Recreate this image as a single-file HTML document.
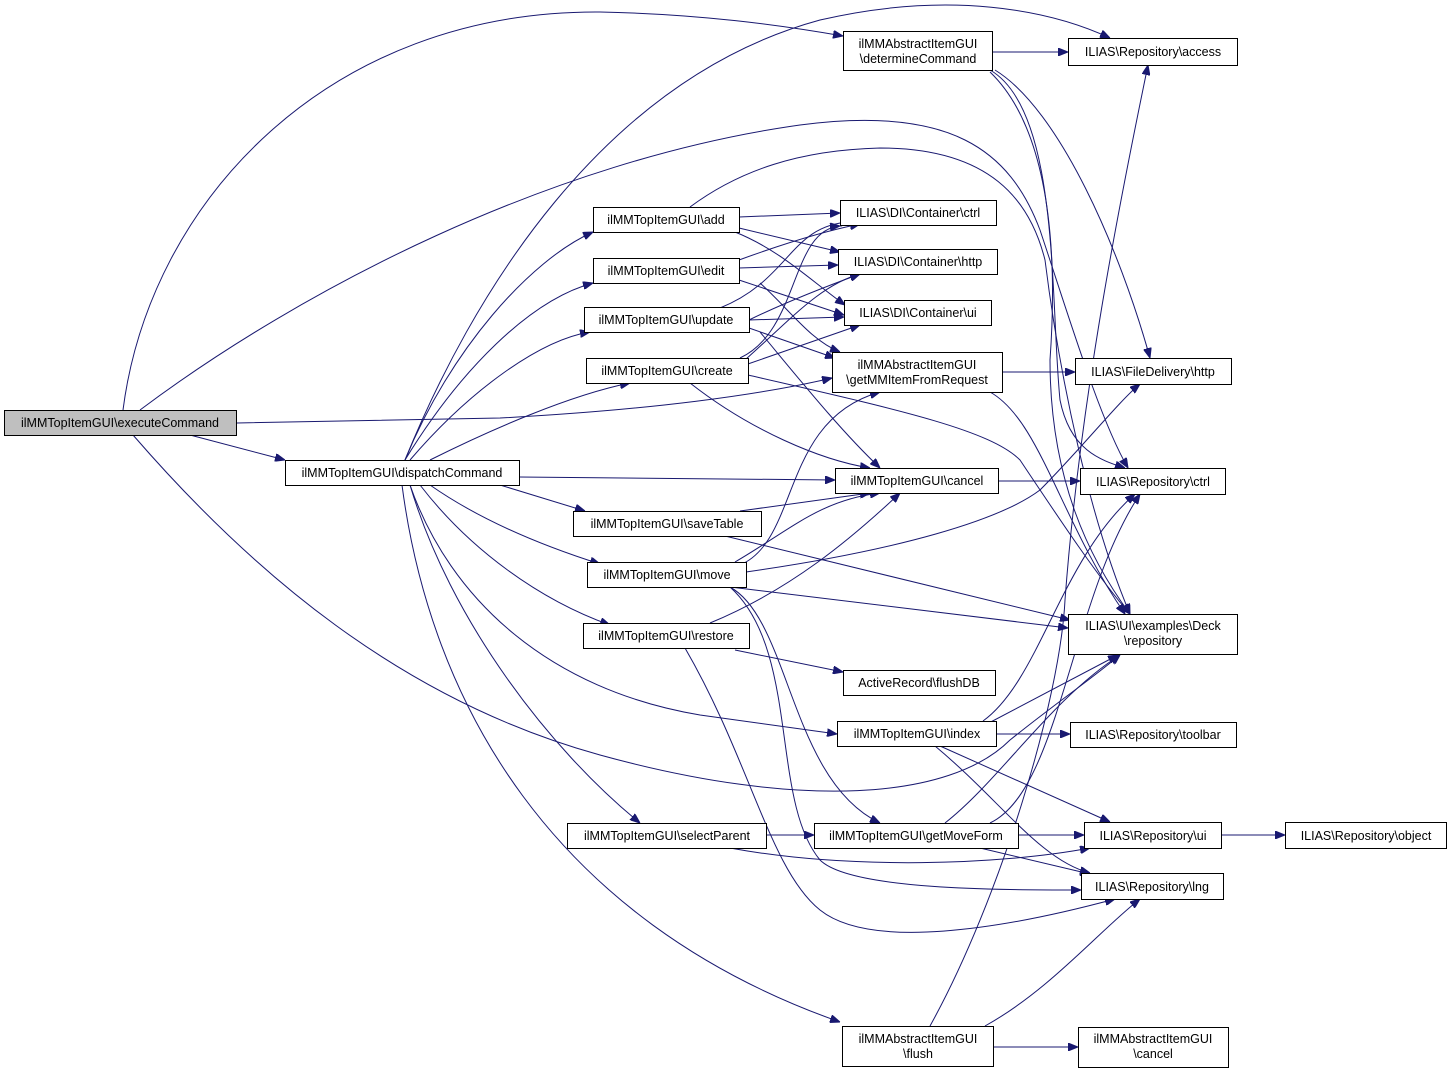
<!DOCTYPE html>
<html><head><meta charset="utf-8"><style>
html,body{margin:0;padding:0;background:#fff;}
svg{display:block;}
text{font-family:"Liberation Sans",sans-serif;font-size:12.5px;fill:#000;}
.n{fill:#fff;stroke:#000;stroke-width:1;}
.e{fill:none;stroke:#191970;stroke-width:1;}
</style></head><body>
<svg width="1452" height="1073" viewBox="0 0 1452 1073" xmlns="http://www.w3.org/2000/svg">
<defs><marker id="a" markerWidth="10" markerHeight="8" refX="10" refY="4" orient="auto" markerUnits="userSpaceOnUse"><path d="M0,0 L10,4 L0,8 z" fill="#191970" stroke="#191970"/></marker></defs>
<g class="e" marker-end="url(#a)">
<!-- executeCommand -->
<path d="M123,410 C150,200 330,10 600,12 C700,14 780,25 843,36"/>
<path d="M140,410 C300,290 550,160 800,125 C950,105 1010,150 1040,230 C1070,320 1100,420 1128,468"/>
<path d="M237,423 L500,418 C650,410 760,395 832,378"/>
<path d="M190,435 L285,460"/>
<path d="M133,435 C250,570 400,700 600,755 C800,810 950,800 1010,740 C1060,700 1090,680 1120,655"/>
<!-- dispatchCommand -->
<path d="M405,460 C470,300 600,80 820,20 C950,-10 1050,10 1110,38"/>
<path d="M405,460 C450,350 530,260 593,232"/>
<path d="M405,460 C460,370 530,300 593,283"/>
<path d="M410,460 C470,390 540,340 590,332"/>
<path d="M430,460 C490,430 570,395 630,383"/>
<path d="M519,477 L835,480"/>
<path d="M500,485 L585,511"/>
<path d="M430,485 C480,520 540,545 600,564"/>
<path d="M420,485 C470,550 540,600 610,625"/>
<path d="M410,485 C450,600 550,690 700,715 L837,734"/>
<path d="M410,485 C450,620 550,750 640,823"/>
<path d="M402,485 C430,700 550,920 840,1022"/>
<!-- add -->
<path d="M739,217 L840,213"/>
<path d="M739,228 L840,252"/>
<path d="M735,232 C780,250 810,280 845,305"/>
<path d="M690,207 C740,170 800,150 880,148 C990,148 1030,200 1045,260 C1060,380 1090,520 1130,614"/>
<!-- edit -->
<path d="M739,260 C780,245 820,232 860,224"/>
<path d="M739,268 L838,265"/>
<path d="M739,280 L844,315"/>
<path d="M760,283 C790,310 810,340 840,352"/>
<!-- update -->
<path d="M720,308 C790,280 790,225 850,222"/>
<path d="M749,320 C790,300 830,285 860,274"/>
<path d="M749,320 L844,317"/>
<path d="M749,328 L835,358"/>
<path d="M760,332 C800,380 840,430 880,468"/>
<!-- create -->
<path d="M740,358 C800,330 790,230 840,226"/>
<path d="M745,360 C790,320 820,285 860,274"/>
<path d="M745,365 L860,325"/>
<path d="M690,383 C750,430 820,460 870,468"/>
<path d="M748,375 C900,410 990,430 1020,460 C1060,520 1100,580 1130,614"/>
<!-- getMMItemFromRequest -->
<path d="M1002,372 L1075,372"/>
<path d="M990,392 C1040,420 1060,520 1125,614"/>
<!-- determineCommand -->
<path d="M992,52 L1068,52"/>
<path d="M995,70 C1060,110 1120,250 1150,358"/>
<path d="M990,70 C1060,110 1050,300 1060,400 C1070,450 1100,460 1125,468"/>
<path d="M990,72 C1040,120 1060,220 1050,360 C1050,480 1090,560 1130,614"/>
<!-- cancel -->
<path d="M998,481 L1080,481"/>
<!-- saveTable -->
<path d="M740,511 L870,493"/>
<path d="M725,536 L1070,620"/>
<!-- move -->
<path d="M735,562 C790,530 820,500 880,493"/>
<path d="M740,565 C800,540 780,420 880,392"/>
<path d="M746,572 C900,550 1000,520 1040,490 C1080,450 1120,400 1140,384"/>
<path d="M730,587 L1068,628"/>
<path d="M730,587 C790,620 790,780 880,823"/>
<path d="M730,587 C800,650 770,800 820,860 C850,890 1000,890 1081,890"/>
<!-- restore -->
<path d="M710,623 C790,590 850,540 900,493"/>
<path d="M735,650 L843,672"/>
<path d="M685,648 C750,760 770,870 820,910 C870,950 1000,930 1115,899"/>
<!-- index -->
<path d="M983,721 C1040,680 1060,560 1135,494"/>
<path d="M985,725 L1118,655"/>
<path d="M996,734 L1070,734"/>
<path d="M940,746 L1110,822"/>
<path d="M935,746 C1000,800 1040,860 1090,873"/>
<!-- selectParent -->
<path d="M766,835 L814,835"/>
<path d="M730,848 C850,870 1000,865 1090,848"/>
<!-- getMoveForm -->
<path d="M1018,835 L1084,835"/>
<path d="M980,848 L1090,874"/>
<path d="M945,823 C1000,780 1050,700 1120,655"/>
<path d="M990,823 C1060,790 1070,600 1140,494"/>
<!-- repo ui -->
<path d="M1221,835 L1285,835"/>
<!-- flush -->
<path d="M930,1026 C1000,900 1060,700 1065,600 C1080,400 1120,200 1148,65"/>
<path d="M985,1026 C1050,990 1100,930 1140,899"/>
<path d="M994,1047 L1078,1047"/>
</g>
<g>
<rect x="4.5" y="410.5" width="232" height="25" fill="#bfbfbf" stroke="#000"/><text x="120" y="427" text-anchor="middle">ilMMTopItemGUI\executeCommand</text>
<rect class="n" x="285.5" y="460.5" width="234" height="25"/><text x="402" y="477" text-anchor="middle">ilMMTopItemGUI\dispatchCommand</text>
<rect class="n" x="593.5" y="207.5" width="146" height="25"/><text x="666" y="224" text-anchor="middle">ilMMTopItemGUI\add</text>
<rect class="n" x="593.5" y="258.5" width="146" height="25"/><text x="666" y="275" text-anchor="middle">ilMMTopItemGUI\edit</text>
<rect class="n" x="584.5" y="307.5" width="165" height="25"/><text x="666" y="324" text-anchor="middle">ilMMTopItemGUI\update</text>
<rect class="n" x="586.5" y="358.5" width="162" height="25"/><text x="667" y="375" text-anchor="middle">ilMMTopItemGUI\create</text>
<rect class="n" x="573.5" y="511.5" width="188" height="25"/><text x="667" y="528" text-anchor="middle">ilMMTopItemGUI\saveTable</text>
<rect class="n" x="587.5" y="562.5" width="159" height="25"/><text x="667" y="579" text-anchor="middle">ilMMTopItemGUI\move</text>
<rect class="n" x="583.5" y="623.5" width="166" height="25"/><text x="666" y="640" text-anchor="middle">ilMMTopItemGUI\restore</text>
<rect class="n" x="567.5" y="823.5" width="199" height="25"/><text x="667" y="840" text-anchor="middle">ilMMTopItemGUI\selectParent</text>
<rect class="n" x="843.5" y="31.5" width="149" height="39"/><text x="918" y="48" text-anchor="middle">ilMMAbstractItemGUI</text><text x="918" y="63" text-anchor="middle">\determineCommand</text>
<rect class="n" x="840.5" y="200.5" width="156" height="25"/><text x="918" y="217" text-anchor="middle">ILIAS\DI\Container\ctrl</text>
<rect class="n" x="838.5" y="249.5" width="159" height="25"/><text x="918" y="266" text-anchor="middle">ILIAS\DI\Container\http</text>
<rect class="n" x="844.5" y="300.5" width="147" height="25"/><text x="918" y="317" text-anchor="middle">ILIAS\DI\Container\ui</text>
<rect class="n" x="832.5" y="352.5" width="170" height="40"/><text x="917" y="369" text-anchor="middle">ilMMAbstractItemGUI</text><text x="917" y="384" text-anchor="middle">\getMMItemFromRequest</text>
<rect class="n" x="835.5" y="468.5" width="163" height="25"/><text x="917" y="485" text-anchor="middle">ilMMTopItemGUI\cancel</text>
<rect class="n" x="843.5" y="670.5" width="152" height="25"/><text x="919" y="687" text-anchor="middle">ActiveRecord\flushDB</text>
<rect class="n" x="837.5" y="721.5" width="159" height="25"/><text x="917" y="738" text-anchor="middle">ilMMTopItemGUI\index</text>
<rect class="n" x="814.5" y="823.5" width="204" height="25"/><text x="916" y="840" text-anchor="middle">ilMMTopItemGUI\getMoveForm</text>
<rect class="n" x="842.5" y="1026.5" width="151" height="40"/><text x="918" y="1043" text-anchor="middle">ilMMAbstractItemGUI</text><text x="918" y="1058" text-anchor="middle">\flush</text>
<rect class="n" x="1068.5" y="38.5" width="169" height="27"/><text x="1153" y="56" text-anchor="middle">ILIAS\Repository\access</text>
<rect class="n" x="1075.5" y="358.5" width="156" height="26"/><text x="1153" y="376" text-anchor="middle">ILIAS\FileDelivery\http</text>
<rect class="n" x="1080.5" y="468.5" width="145" height="26"/><text x="1153" y="486" text-anchor="middle">ILIAS\Repository\ctrl</text>
<rect class="n" x="1068.5" y="614.5" width="169" height="40"/><text x="1153" y="630" text-anchor="middle">ILIAS\UI\examples\Deck</text><text x="1153" y="645" text-anchor="middle">\repository</text>
<rect class="n" x="1070.5" y="722.5" width="166" height="25"/><text x="1153" y="739" text-anchor="middle">ILIAS\Repository\toolbar</text>
<rect class="n" x="1084.5" y="822.5" width="137" height="26"/><text x="1153" y="840" text-anchor="middle">ILIAS\Repository\ui</text>
<rect class="n" x="1081.5" y="873.5" width="142" height="26"/><text x="1152" y="891" text-anchor="middle">ILIAS\Repository\lng</text>
<rect class="n" x="1285.5" y="822.5" width="161" height="26"/><text x="1366" y="840" text-anchor="middle">ILIAS\Repository\object</text>
<rect class="n" x="1078.5" y="1027.5" width="150" height="40"/><text x="1153" y="1043" text-anchor="middle">ilMMAbstractItemGUI</text><text x="1153" y="1058" text-anchor="middle">\cancel</text>
</g>
</svg>
</body></html>
